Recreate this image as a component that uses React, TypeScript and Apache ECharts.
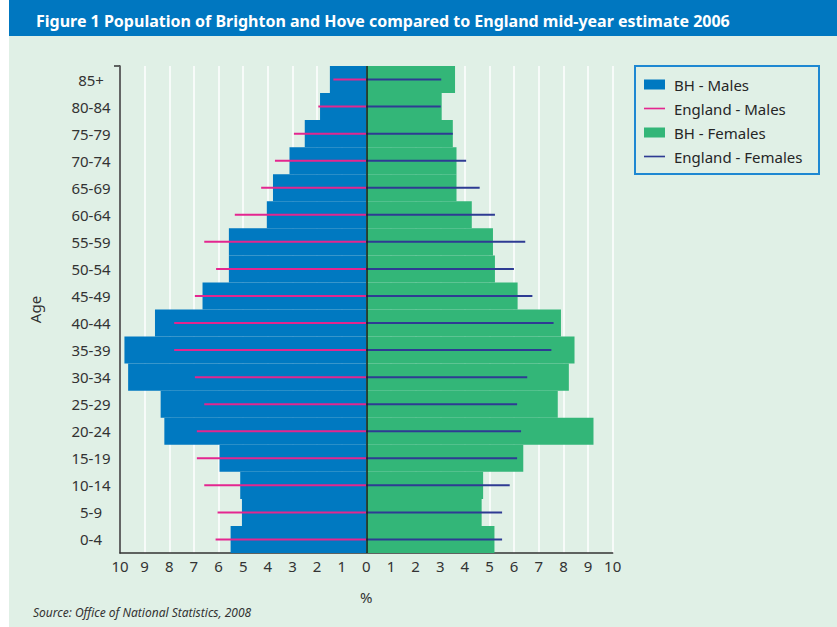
import React, { useEffect, useRef } from "react";
import * as echarts from "echarts";

const ageGroups = ["0-4", "5-9", "10-14", "15-19", "20-24", "25-29", "30-34", "35-39", "40-44", "45-49", "50-54", "55-59", "60-64", "65-69", "70-74", "75-79", "80-84", "85+"];
const bhMales = [5.51, 5.05, 5.12, 5.96, 8.2, 8.35, 9.67, 9.82, 8.58, 6.65, 5.58, 5.58, 4.04, 3.79, 3.12, 2.5, 1.88, 1.48];
const englandMales = [6.12, 6.04, 6.58, 6.88, 6.88, 6.58, 6.96, 7.8, 7.8, 6.96, 6.1, 6.58, 5.34, 4.27, 3.71, 2.94, 1.95, 1.34];
const bhFemales = [5.2, 4.68, 4.74, 6.37, 9.22, 7.77, 8.22, 8.45, 7.9, 6.14, 5.22, 5.14, 4.28, 3.66, 3.66, 3.51, 3.06, 3.6];
const englandFemales = [5.51, 5.51, 5.82, 6.12, 6.28, 6.12, 6.53, 7.51, 7.6, 6.74, 5.99, 6.45, 5.22, 4.6, 4.05, 3.51, 3.02, 3.04];

const FONT = "'Noto Sans', 'Open Sans', sans-serif";
const BG = "#e0f0e6";
const BLUE = "#0079c1";
const GREEN = "#33b678";
const PINK = "#e4268f";
const NAVY = "#2e3b93";

function lineItem(color: string) {
  return (params: any, api: any) => {
    const y = api.value(1);
    const p0 = api.coord([0, y]);
    const p1 = api.coord([api.value(0), y]);
    return {
      type: "line",
      shape: { x1: p0[0], y1: p0[1], x2: p1[0], y2: p1[1] },
      style: { stroke: color, lineWidth: 2 },
    };
  };
}

export default function App() {
  const ref = useRef<HTMLDivElement>(null);
  useEffect(() => {
    if (!ref.current) return;
    const chart = echarts.init(ref.current, null, { renderer: "svg" });
    const option: any = {
      animation: false,
      backgroundColor: "transparent",
      textStyle: { fontFamily: FONT },
      title: [
        {
          text: "Figure 1 Population of Brighton and Hove compared to England mid-year estimate 2006",
          left: 31,
          top: 8,
          textStyle: { color: "#ffffff", fontWeight: "bold", fontSize: 16, fontFamily: FONT },
        },
        {
          text: "Source: Office of National Statistics, 2008",
          left: 33,
          top: 605,
          padding: 0,
          textStyle: { color: "#333333", fontWeight: "normal", fontStyle: "italic", fontSize: 12, lineHeight: 15, fontFamily: FONT },
        },
      ],
      legend: {
        orient: "vertical",
        left: 644,
        top: 77,
        padding: 0,
        itemWidth: 21,
        itemHeight: 10,
        itemGap: 9,
        textStyle: { color: "#262626", fontSize: 15, lineHeight: 15, fontFamily: FONT, padding: [0, 0, 0, 4] },
        data: [
          { name: "BH - Males", icon: "rect" },
          { name: "England - Males", icon: "path://M0,0h23v1.8h-23z" },
          { name: "BH - Females", icon: "rect" },
          { name: "England - Females", icon: "path://M0,0h23v1.8h-23z" },
        ],
      },
      grid: { left: 120, right: 224.3, top: 66, bottom: 74, containLabel: false },
      xAxis: {
        type: "value",
        min: -10,
        max: 10,
        interval: 1,
        name: "%",
        nameLocation: "middle",
        nameGap: 36,
        nameTextStyle: { color: "#333333", fontSize: 15, fontFamily: FONT },
        axisLine: { show: true, lineStyle: { color: "#333333", width: 1.5 } },
        axisTick: { show: false },
        axisLabel: { color: "#333333", fontSize: 15, margin: 5, fontFamily: FONT, formatter: (v: number) => String(Math.abs(v)) },
        splitLine: { show: true, lineStyle: { color: "#ffffff", width: 1.5 } },
      },
      yAxis: {
        type: "category",
        data: ageGroups,
        name: "Age",
        nameLocation: "middle",
        nameGap: 78,
        nameRotate: 90,
        nameTextStyle: { color: "#333333", fontSize: 15, fontFamily: FONT },
        axisLine: { show: true, onZero: false, lineStyle: { color: "#333333", width: 1.5 } },
        axisTick: { show: false },
        axisLabel: { color: "#333333", fontSize: 15, margin: 29, align: "center", fontFamily: FONT },
        splitLine: { show: false },
      },
      graphic: [
        {
          type: "rect",
          shape: { x: 635, y: 66, width: 184, height: 108 },
          style: { fill: "none", stroke: "#1e88d2", lineWidth: 2 },
          silent: true,
        },
        {
          type: "line",
          shape: { x1: 114, y1: 66, x2: 120, y2: 66 },
          style: { stroke: "#333333", lineWidth: 1.5 },
          silent: true,
        },
      ],
      series: [
        {
          name: "BH - Males",
          type: "bar",
          stack: "pop",
          barCategoryGap: "0%",
          itemStyle: { color: BLUE },
          data: bhMales.map((v) => -v),
        },
        {
          name: "BH - Females",
          type: "bar",
          stack: "pop",
          barCategoryGap: "0%",
          itemStyle: { color: GREEN },
          data: bhFemales,
        },
        {
          name: "England - Males",
          type: "custom",
          itemStyle: { color: PINK },
          encode: { x: 0, y: 1 },
          renderItem: lineItem(PINK),
          data: englandMales.map((v, i) => [-v, i]),
          z: 3,
        },
        {
          name: "England - Females",
          type: "custom",
          itemStyle: { color: NAVY },
          encode: { x: 0, y: 1 },
          renderItem: lineItem(NAVY),
          data: englandFemales.map((v, i) => [v, i]),
          z: 3,
          markLine: {
            silent: true,
            symbol: ["none", "none"],
            label: { show: false },
            lineStyle: { color: "#1a1a1a", width: 1.5, type: "solid" },
            data: [{ xAxis: 0 }],
          },
        },
      ],
    };
    chart.setOption(option);
    return () => chart.dispose();
  }, []);

  return (
    <div style={{ position: "absolute", left: 0, top: 0, width: 837, height: 627, background: "#ffffff" }}>
      <div style={{ position: "absolute", left: 9, top: 36, width: 828, height: 591, background: BG }} />
      <div style={{ position: "absolute", left: 9, top: 0, width: 828, height: 36, background: "#0077c0" }} />
      <div ref={ref} style={{ position: "absolute", left: 0, top: 0, width: 837, height: 627 }} />
    </div>
  );
}
